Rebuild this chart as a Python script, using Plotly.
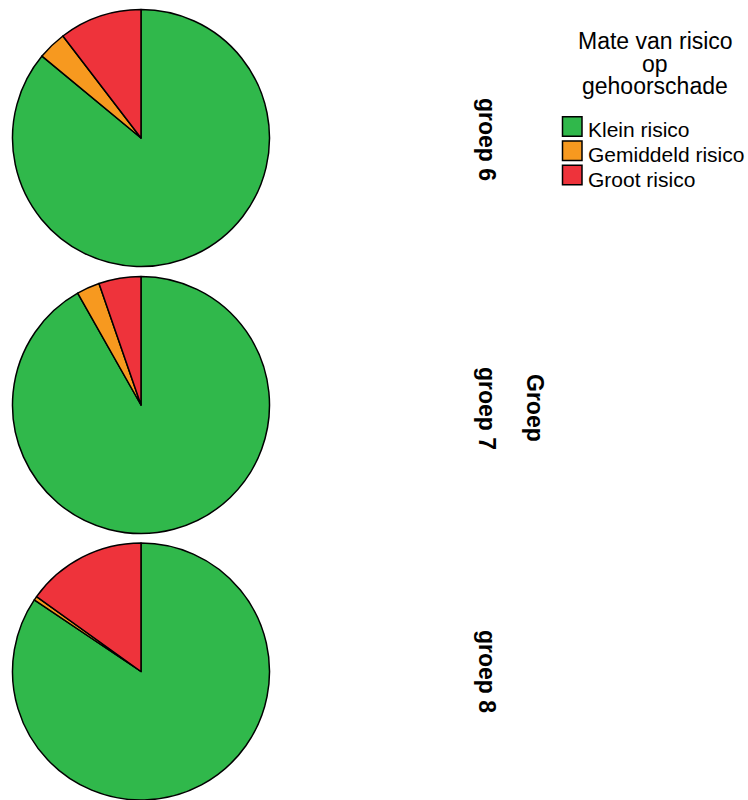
import plotly.graph_objects as go

categories = ["Klein risico", "Gemiddeld risico", "Groot risico"]
groups = ["groep 6", "groep 7", "groep 8"]
values_g6 = [86.0, 3.6, 10.4]
values_g7 = [91.8, 2.9, 5.3]
values_g8 = [84.4, 0.5, 15.1]
colors = ["#30b84b", "#f7991f", "#ee333b"]
legend_title_lines = ["Mate van risico", "op", "gehoorschade"]
axis_title = "Groep"

W, H = 748, 800
FONT = "Liberation Sans, Arial, sans-serif"
# pie centres / radius in pixels
centres = [138, 405, 671.5]
label_y = [139, 408, 671]
R = 128.5
cx = 141

fig = go.Figure()
for i, (g, vals) in enumerate(zip(groups, [values_g6, values_g7, values_g8])):
    cy = centres[i]
    y0 = max(0, 1 - (cy + R) / H)
    y1 = 1 - (cy - R) / H
    fig.add_trace(go.Pie(
        labels=categories, values=vals, sort=False, direction="clockwise", rotation=0,
        marker=dict(colors=colors, line=dict(color="black", width=1.5)),
        textinfo="none", hoverinfo="label+percent", name=g,
        domain=dict(x=[(cx - R) / W, (cx + R) / W], y=[y0, y1]),
        showlegend=False,
    ))
    fig.add_annotation(x=487 / W, y=1 - label_y[i] / H, xref="paper", yref="paper",
                       xanchor="center", yanchor="middle",
                       text="<b>%s</b>" % g, textangle=90, showarrow=False,
                       font=dict(size=23, color="black", family=FONT))

fig.add_annotation(x=535 / W, y=1 - 408 / H, xref="paper", yref="paper",
                   xanchor="center", yanchor="middle",
                   text="<b>%s</b>" % axis_title, textangle=90, showarrow=False,
                   font=dict(size=23, color="black", family=FONT))

# legend title (centred lines)
title_y = [41, 64, 85.5]
for t, ty in zip(legend_title_lines, title_y):
    fig.add_annotation(x=655 / W, y=1 - ty / H, xref="paper", yref="paper",
                       text=t, showarrow=False, xanchor="center", yanchor="middle",
                       font=dict(size=23, color="black", family=FONT))

# legend items
sq_top = [116.7, 140.9, 165.2]
sq_size = 19.5
text_y = [129, 154, 179.5]
for cat, col, st, ty in zip(categories, colors, sq_top, text_y):
    fig.add_shape(type="rect", xref="paper", yref="paper",
                  x0=562.5 / W, x1=(562.5 + sq_size) / W,
                  y0=1 - (st + sq_size) / H, y1=1 - st / H,
                  fillcolor=col, line=dict(color="black", width=1.5))
    fig.add_annotation(x=586 / W, y=1 - ty / H, xref="paper", yref="paper",
                       text=cat, showarrow=False, xanchor="left", yanchor="middle",
                       font=dict(size=21, color="black", family=FONT))

fig.update_layout(
    width=W, height=H, margin=dict(l=0, r=0, t=0, b=0),
    paper_bgcolor="white", plot_bgcolor="white",
    font=dict(family=FONT, color="black"),
    showlegend=False,
)
fig.write_html("out.html")
